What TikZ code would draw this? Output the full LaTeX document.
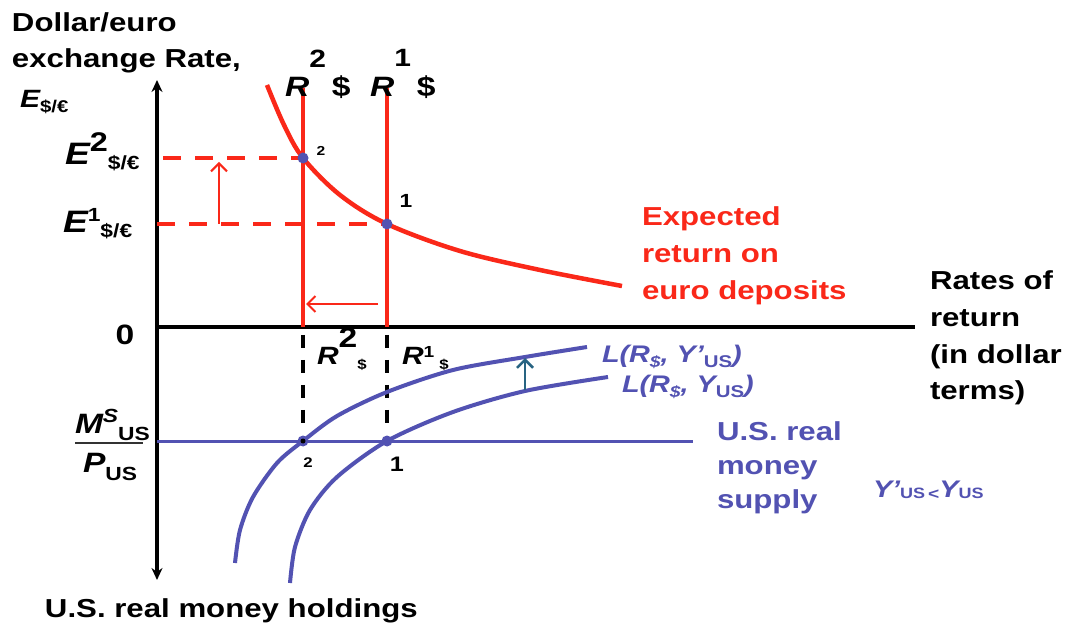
\documentclass[tikz,border=0pt]{standalone}
\usepackage{fontspec}
\setmainfont{Liberation Sans}[FakeStretch=1.2]
\usetikzlibrary{arrows.meta}
\definecolor{myred}{RGB}{250,40,25}
\definecolor{myblue}{RGB}{82,82,178}
\definecolor{myteal}{RGB}{40,100,130}
\newcommand{\fs}[1]{\fontsize{#1}{#1}\selectfont}
\newcommand{\up}[3]{\raisebox{#1pt}{\fs{#2}#3}}
\newcommand{\dn}[3]{\raisebox{-#1pt}{\fs{#2}#3}}
\begin{document}
\begin{tikzpicture}[x=1pt,y=-1pt,
  every node/.style={inner sep=0pt,outer sep=0pt,font=\bfseries},
  lbl/.style={anchor=base west},
  axisline/.style={line width=4pt,black},
  redline/.style={line width=4.5pt,myred},
  reddash/.style={line width=4pt,myred,dash pattern=on 18pt off 14pt},
  blackdash/.style={line width=4pt,black,dash pattern=on 13pt off 12pt},
  blueline/.style={line width=4pt,myblue},
  shiftarrow/.style={line width=2pt,-{Straight Barb[length=8pt,width=16pt]}},
  dot/.style={myblue}]
\useasboundingbox (0,0) rectangle (1069,628);
\fill[white] (0,0) rectangle (1069,628);
% key points
\coordinate (O) at (157,327);
\coordinate (Ytop) at (157,80);
\coordinate (Ybot) at (157,580);
\coordinate (Xend) at (915,327);
\coordinate (R2top) at (303,88);
\coordinate (R2base) at (303,327);
\coordinate (R1top) at (387,88);
\coordinate (R1base) at (387,327);
\coordinate (P2) at (303,158);
\coordinate (P1) at (387,224);
\coordinate (E2s) at (163,158);
\coordinate (E1s) at (157,224);
\coordinate (Q2) at (303,441);
\coordinate (Q1) at (387,441);
\coordinate (MSs) at (157,441);
\coordinate (MSe) at (693,441);
\coordinate (D2s) at (303,335);
\coordinate (D2e) at (303,423);
\coordinate (D1s) at (387,335);
\coordinate (D1e) at (387,423);
\coordinate (UA1) at (219,224);
\coordinate (UA2) at (219,162);
\coordinate (LA1) at (378,304);
\coordinate (LA2) at (306,304);
\coordinate (TA1) at (525,390);
\coordinate (TA2) at (525,358);
% axes
\draw[axisline,{Stealth[length=12pt,width=11pt]}-{Stealth[length=12pt,width=11pt]}] (Ybot) -- (Ytop);
\draw[axisline] (O) -- (Xend);
% red part
\draw[reddash] (E2s) -- (P2);
\draw[reddash] (E1s) -- (P1);
\draw[redline] (R2base) -- (R2top);
\draw[redline] (R1base) -- (R1top);
\draw[redline] plot[smooth,tension=0.55] coordinates {(267,85) (284,125) (303,158) (340,195) (387,224) (460,251) (540,270) (622,286)};
\draw[shiftarrow,myred] (UA1) -- (UA2);
\draw[shiftarrow,myred] (LA1) -- (LA2);
% lower part
\draw[blackdash] (D2s) -- (D2e);
\draw[blackdash] (D1s) -- (D1e);
\draw[line width=3pt,myblue] (MSs) -- (MSe);
\draw[blueline] plot[smooth,tension=0.5] coordinates {(235,563) (240,530) (253,497) (277,463) (303,441) (337,416) (387,392) (453,370) (525,357) (587,347)};
\draw[blueline] plot[smooth,tension=0.5] coordinates {(290,583) (295,547) (310,510) (337,477) (387,441) (453,412) (525,391) (608,377)};
\draw[shiftarrow,myteal,line width=2.5pt] (TA1) -- (TA2);
% dots
\fill[dot] (P2) circle (5.5);
\fill[dot] (P1) circle (5.5);
\fill[dot] (Q2) circle (5.5);
\fill[black] (Q2) circle (2.5);
\fill[dot] (Q1) circle (5.5);
% texts top-left
\node[lbl] (t1) at (12,32) {\fs{26}Dollar/euro};
\node[lbl] (t2) at (12,68) {\fs{26}exchange Rate,};
\node[lbl] (tE) at (20,108) {\fs{25}\itshape E\dn{5}{17}{\upshape\$/€}};
\node[lbl] (tE2) at (65,165) {\fs{31}\itshape E\up{13}{27}{\upshape 2}\dn{5}{19}{\upshape\$/€}};
\node[lbl] (tE1) at (63,233) {\fs{31}\itshape E\up{11}{19}{\upshape 1}\dn{5}{19}{\upshape\$/€}};
\node[lbl] (tR2) at (285,97) {\fs{28}\itshape R\up{29}{25}{\upshape 2}\hspace{6pt}{\upshape\$}};
\node[lbl] (tR1) at (370,97) {\fs{28}\itshape R\up{30}{25}{\upshape 1}\hspace{6pt}{\upshape\$}};
\node (tz) at (125,335) {\fs{28}0};
\node[lbl] (lR2) at (317,365) {\fs{25}\itshape R\up{17}{28}{\upshape 2}\dn{5}{14}{\upshape\$}};
\node[lbl] (lR1) at (402,365) {\fs{25}\itshape R\up{7}{16}{\upshape 1}\hspace{5pt}\dn{5}{14}{\upshape\$}};
\node[lbl] (tM) at (75,433) {\fs{28}\itshape M\up{10}{19}{S}\dn{7}{19}{\upshape US}};
\draw[line width=1.5pt,black!80] (75,443) -- (143,443);
\node[lbl] (tP) at (83,472) {\fs{28}\itshape P\dn{8}{19}{\upshape US}};
\node (n2a) at (321,151) {\fs{13}2};
\node (n1a) at (406,201) {\fs{19}1};
\node (n2b) at (308,463) {\fs{14}2};
\node (n1b) at (397,464) {\fs{21}1};
\node[lbl] (tH) at (45,617) {\fs{26}U.S. real money holdings};
% right texts
\node[lbl,align=left,text=myred,font={\bfseries\fontsize{26}{37}\selectfont}] (tX) at (642,300) {Expected\\return on\\euro deposits};
\node[lbl,align=left,font={\bfseries\fontsize{26}{37}\selectfont}] (tRR) at (930,400) {Rates of\\return\\(in dollar\\terms)};
\node[lbl,text=myblue] (tL2) at (602,363) {\fs{24}\itshape L(R\dn{5}{16}{\$}, Y’\dn{5}{17}{\upshape US})};
\node[lbl,text=myblue] (tL1) at (622,393) {\fs{24}\itshape L(R\dn{5}{16}{\$}, Y\dn{5}{17}{\upshape US})};
\node[lbl,align=left,text=myblue,font={\bfseries\fontsize{26}{34}\selectfont}] (tMS) at (717,508) {U.S. real\\money\\supply};
\node[lbl,text=myblue] (tY) at (873,497) {\fs{24}\itshape Y’\dn{1}{15}{\upshape US}\hspace{3pt}\dn{2}{16}{\upshape <}Y\dn{1}{15}{\upshape US}};
\end{tikzpicture}
\end{document}
